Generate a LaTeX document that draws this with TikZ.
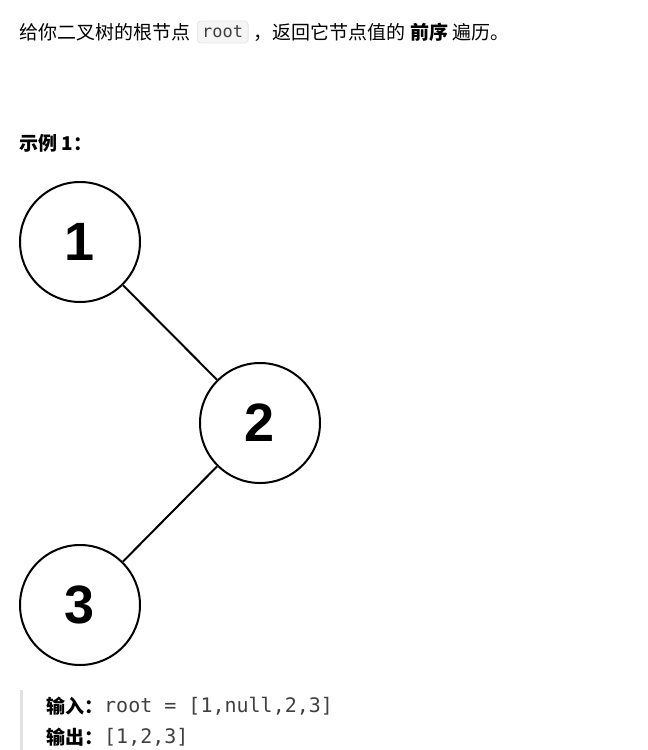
\documentclass[tikz,border=0pt]{standalone}
\usepackage{fontspec}
\setmainfont{Liberation Sans}
\setmonofont{DejaVu Sans Mono}
\newfontfamily\cjk{Noto Sans CJK SC}
\usetikzlibrary{positioning}

\begin{document}
\begin{tikzpicture}[x=1pt,y=-1pt,thick,
treenode/.style={circle, draw, line width=2pt, minimum size=120pt, inner sep=0pt, font=\fontsize{54}{54}\selectfont\bfseries},
edge/.style={line width=2pt},
txt/.style={anchor=west, inner sep=0pt, font=\fontsize{19}{22}\selectfont\cjk},
code/.style={anchor=west, inner sep=0pt, font=\fontsize{20}{22}\selectfont\ttfamily, text=black!75},]
\useasboundingbox (0,0) rectangle (648,750);

\node[txt] (intro) at (19,32) {给你二叉树的根节点};
\node[code, fill=black!4, draw=black!10, rounded corners=4pt, inner xsep=5pt, inner ysep=5pt, font=\fontsize{17}{19}\selectfont\ttfamily, right=6pt of intro] (root) {root};
\node[txt, right=5pt of root] (rest) {，返回它节点值的 \textbf{前序} 遍历。};

\node[txt] (ex) at (19,143) {\textbf{示例 1：}};

\node[treenode] (n1) at (80,242) {1};
\node[treenode] (n2) at (260,423) {2};
\node[treenode] (n3) at (80,605) {3};
\draw[edge] (n1) -- (n2);
\draw[edge] (n2) -- (n3);

\coordinate (bartop) at (21,690);
\coordinate (barbot) at (21,750);
\draw[line width=3pt, black!12] (bartop) -- (barbot);
\node[txt] (in) at (46,706) {\textbf{输入：}};
\node[code, right=0pt of in] (inval) {root = [1,null,2,3]};
\node[txt] (out) at (46,737) {\textbf{输出：}};
\node[code, right=0pt of out] (outval) {[1,2,3]};
\end{tikzpicture}
\end{document}
